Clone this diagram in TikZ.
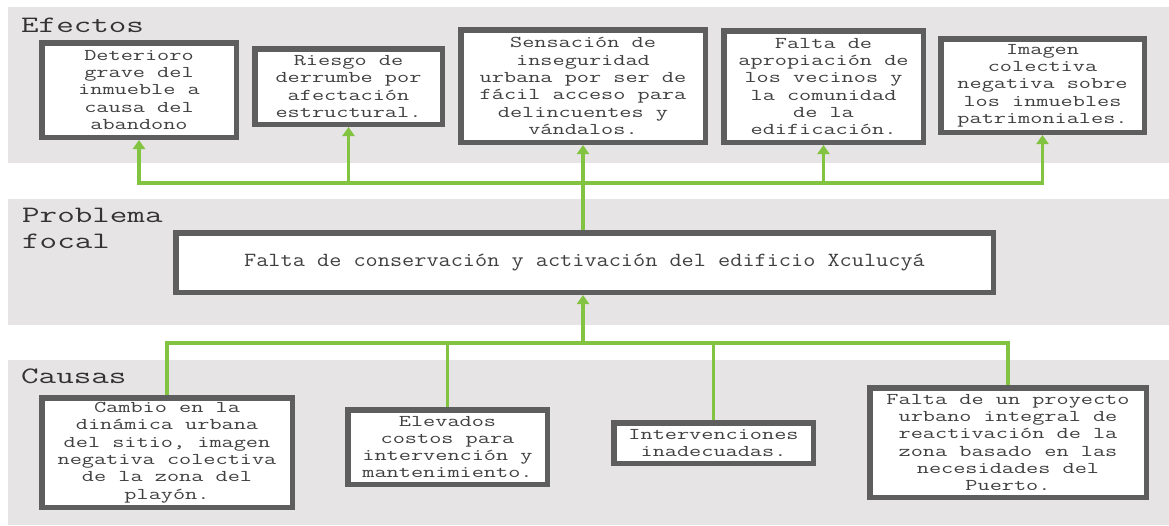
\documentclass[tikz,border=0pt]{standalone}
\usepackage{fontspec}
\newfontfamily\monofont[FakeStretch=1.43]{Latin Modern Mono}
\newfontfamily\headfont[FakeStretch=1.45]{Latin Modern Mono}
\newfontfamily\focalfont[FakeStretch=1.18]{Latin Modern Mono}
\usetikzlibrary{arrows.meta, positioning, shadows}

\definecolor{bandgray}{HTML}{E6E4E4}
\definecolor{boxborder}{HTML}{5E5E5E}
\definecolor{linkgreen}{HTML}{82C341}
\definecolor{textgray}{HTML}{404040}

\begin{document}
\begin{tikzpicture}[x=1pt, y=-1pt,
		band/.style={fill=bandgray},
		heading/.style={anchor=base west, inner sep=0pt, align=left, text=textgray!80!black, font=\headfont\fontsize{23.5}{26}\selectfont},
		box/.style={draw=boxborder, line width=5.5pt, fill=white, align=center, inner sep=2pt, text=textgray, font=\monofont\fontsize{16.5}{17.3}\selectfont, drop shadow={shadow xshift=2pt, shadow yshift=-2pt, opacity=0.35, fill=black}},
		link/.style={draw=linkgreen, line width=3.5pt},
		bus/.style={link, line cap=rect},
		arrow/.style={link, -{Triangle[length=9pt, width=12pt]}}
		]
		
		\useasboundingbox (0,0) rectangle (1169,525);
		
		% Bands
		\fill[band] (8,7) rectangle (1169,163);
		\fill[band] (8,199) rectangle (1169,325);
		\fill[band] (8,360) rectangle (1169,525);
		
		\node[heading] (efectos) at (21,32) {Efectos};
		\node[heading] (problema) at (22,248) {Problema\\focal};
		\node[heading] (causas) at (21,383) {Causas};
		
		% Nodes
		\node[box, minimum width=194.5pt, minimum height=94.5pt] (deterioro) at (139,90) {Deterioro\\grave del\\inmueble a\\causa del\\abandono};
		\node[box, minimum width=187.5pt, minimum height=75.5pt] (riesgo) at (348.5,86.5) {Riesgo de\\derrumbe por\\afectación\\estructural.};
		\node[box, minimum width=244.5pt, minimum height=112.5pt] (inseguridad) at (583,86) {Sensación de\\inseguridad\\urbana por ser de\\fácil acceso para\\delincuentes y\\vándalos.};
		\node[box, minimum width=199.5pt, minimum height=111.5pt] (apropiacion) at (823.5,86.5) {Falta de\\apropiación de\\los vecinos y\\la comunidad\\de la\\edificación.};
		\node[box, minimum width=203.5pt, minimum height=93.5pt] (imagen) at (1042.5,85.5) {Imagen\\colectiva\\negativa sobre\\los inmuebles\\patrimoniales.};
		
		\node[box, minimum width=817.5pt, minimum height=59.5pt, font=\focalfont\fontsize{20}{24}\selectfont] (focal) at (584.5,262.5) {Falta de conservación y activación del edificio Xculucyá};
		
		\node[box, minimum width=250.5pt, minimum height=109.5pt] (cambio) at (167,452.5) {Cambio en la\\dinámica urbana\\del sitio, imagen\\negativa colectiva\\de la zona del\\playón.};
		\node[box, minimum width=199.5pt, minimum height=74.5pt] (costos) at (447.5,447) {Elevados\\costos para\\intervención y\\mantenimiento.};
		\node[box, minimum width=199.5pt, minimum height=40.5pt] (intervenciones) at (713.5,443) {Intervenciones\\inadecuadas.};
		\node[box, minimum width=276.5pt, minimum height=109.5pt] (proyecto) at (1008,442.5) {Falta de un proyecto\\urbano integral de\\reactivación de la\\zona basado en las\\necesidades del\\Puerto.};
		
		% Arrows
		\coordinate (ebus) at (583,183);
		\coordinate (cbus) at (583,343);
		
		\draw[link] (focal.north -| ebus) -- (ebus);
		\draw[bus] (deterioro.south |- ebus) -- (imagen.south |- ebus);
		\foreach \n in {deterioro, riesgo, inseguridad, apropiacion, imagen}
			\draw[arrow] (\n.south |- ebus) -- (\n.south);
		
		\draw[bus] (cambio.north |- cbus) -- (proyecto.north |- cbus);
		\foreach \n in {cambio, costos, intervenciones, proyecto}
			\draw[link] (\n.north |- cbus) -- (\n.north);
		\draw[arrow] (cbus) -- (focal.south -| cbus);
		
	\end{tikzpicture}
\end{document}
